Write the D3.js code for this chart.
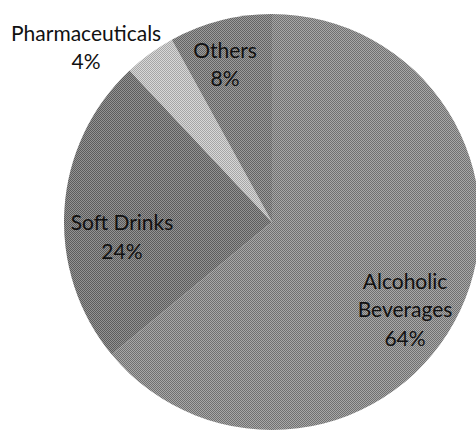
<!DOCTYPE html>
<html><head><meta charset="utf-8">
<script src="https://cdn.jsdelivr.net/npm/d3@7"></script>
<style>html,body{margin:0;padding:0;background:#fff;overflow:hidden}</style>
</head><body>
<svg id="chart" width="476" height="431"></svg>
<script>
// Data
const categories = ["Alcoholic Beverages", "Soft Drinks", "Pharmaceuticals", "Others"];
const values = [64, 24, 4, 8];
const labelLines = [["Alcoholic", "Beverages", "64%"], ["Soft Drinks", "24%"], ["Pharmaceuticals", "4%"], ["Others", "8%"]];

// Styles (checker dither pairs)
const fills = [["#a8a8a8", "#707070"], ["#939393", "#5c5c5c"], ["#d8d8d8", "#a6a6a6"], ["#9c9c9c", "#646464"]];
// Label layout: [angle offset deg, radius factor]
const labelLayout = [[8.3, 0.767], [-9.3, 0.725], [-10.8, 1.226], [-2.2, 0.79]];

const W = 476, H = 431, cx = 272, cy = 222, R = 208;
const svg = d3.select("#chart");
const defs = svg.append("defs");
fills.forEach((f, i) => {
  const p = defs.append("pattern").attr("id", "pat" + i).attr("width", 2).attr("height", 2)
    .attr("patternUnits", "userSpaceOnUse");
  p.append("rect").attr("width", 2).attr("height", 2).attr("fill", f[0]);
  p.append("rect").attr("width", 1).attr("height", 1).attr("fill", f[1]);
  p.append("rect").attr("x", 1).attr("y", 1).attr("width", 1).attr("height", 1).attr("fill", f[1]);
});

const pie = d3.pie().sort(null).value(d => d)(values);
const arc = d3.arc().innerRadius(0).outerRadius(R);
const g = svg.append("g").attr("transform", `translate(${cx},${cy})`);
g.selectAll("path").data(pie).join("path")
  .attr("d", arc).attr("fill", (d, i) => `url(#pat${i})`);

const fs = 21, lh = 28.5;
pie.forEach((d, i) => {
  const mid = (d.startAngle + d.endAngle) / 2 + labelLayout[i][0] * Math.PI / 180;
  const r = R * labelLayout[i][1];
  const x = Math.sin(mid) * r, y = -Math.cos(mid) * r;
  const lines = labelLines[i];
  const t = g.append("text").attr("text-anchor", "middle")
    .attr("font-family", "Lato, 'Open Sans', sans-serif").attr("font-size", fs)
    .attr("fill", "#111");
  lines.forEach((ln, j) => {
    t.append("tspan").attr("x", x).attr("y", y + (j - (lines.length - 1) / 2) * lh + fs * 0.35).text(ln);
  });
});
</script>
</body></html>
